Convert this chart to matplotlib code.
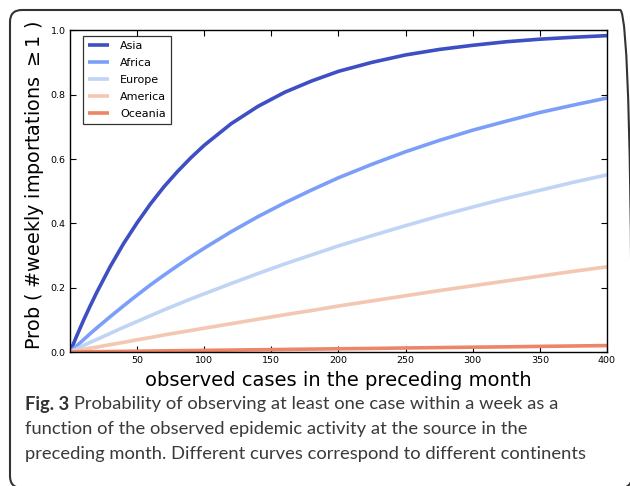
import matplotlib
matplotlib.use("Agg")
import matplotlib.pyplot as plt
from matplotlib.patches import FancyBboxPatch
from matplotlib.transforms import IdentityTransform

cases = [0, 5, 10, 15, 20, 30, 40, 50, 60, 70, 80, 90, 100, 120, 140, 160, 180, 200,
         225, 250, 275, 300, 325, 350, 375, 400]
asia = [0, 0.050, 0.098, 0.143, 0.186, 0.266, 0.338, 0.402, 0.461, 0.514, 0.561, 0.604, 0.643,
        0.710, 0.764, 0.808, 0.843, 0.873, 0.901, 0.924, 0.941, 0.954, 0.965, 0.973, 0.979, 0.984]
africa = [0, 0.019, 0.038, 0.057, 0.075, 0.110, 0.144, 0.177, 0.209, 0.239, 0.268, 0.296, 0.323,
          0.374, 0.421, 0.464, 0.504, 0.542, 0.584, 0.623, 0.658, 0.690, 0.718, 0.745, 0.768, 0.790]
europe = [0, 0.010, 0.020, 0.030, 0.039, 0.058, 0.077, 0.095, 0.113, 0.131, 0.148, 0.165, 0.181,
          0.213, 0.244, 0.274, 0.302, 0.330, 0.362, 0.393, 0.423, 0.451, 0.478, 0.503, 0.528, 0.551]
america = [0, 0.004, 0.008, 0.012, 0.015, 0.023, 0.030, 0.038, 0.045, 0.053, 0.060, 0.067, 0.074,
           0.088, 0.102, 0.116, 0.129, 0.143, 0.159, 0.175, 0.191, 0.206, 0.221, 0.236, 0.251, 0.265]
oceania = [0, 0.0003, 0.0005, 0.0008, 0.001, 0.0015, 0.002, 0.0025, 0.003, 0.0035, 0.004, 0.0045,
           0.005, 0.006, 0.007, 0.008, 0.009, 0.010, 0.011, 0.0125, 0.0137, 0.015, 0.016, 0.0175,
           0.0187, 0.020]

series = [("Asia", asia, "#3d4fc2"), ("Africa", africa, "#7b9ff9"),
          ("Europe", europe, "#c0d4f5"), ("America", america, "#f3c7b1"),
          ("Oceania", oceania, "#ee8468")]

xticks = [50, 100, 150, 200, 250, 300, 350, 400]
yticks = [0.0, 0.2, 0.4, 0.6, 0.8, 1.0]

fig = plt.figure(figsize=(6.3, 4.86), dpi=100)
W, H = 630, 486
ax = fig.add_axes([70 / W, 1 - 352 / H, (607 - 70) / W, (352 - 30.5) / H])

for name, vals, col in series:
    ax.plot(cases, vals, color=col, lw=2.6, label=name, solid_capstyle="butt")

ax.set_xlim(0, 400)
ax.set_ylim(0, 1.0)
ax.set_xticks(xticks)
ax.set_yticks(yticks)
ax.set_yticklabels([f"{v:.1f}" for v in yticks])
ax.tick_params(direction="in", top=True, right=True, labelsize=6.8, length=4, width=0.8, pad=3)
for s in ax.spines.values():
    s.set_linewidth(1.0)

ax.set_xlabel("observed cases in the preceding month", fontsize=14, labelpad=4)
ax.set_ylabel(r"Prob ( #weekly importations $\geq$1 )", fontsize=13.8)
ax.yaxis.set_label_coords(-23.5 / 537, (352 - 185.5) / 321.5)

leg = ax.legend(loc="upper left", fontsize=8, frameon=True, fancybox=False,
                edgecolor="black", handlelength=1.9, handletextpad=1.0, borderpad=0.45,
                labelspacing=0.62, borderaxespad=0, bbox_to_anchor=(0.0236, 0.983))
leg.get_frame().set_linewidth(0.9)

# outer rounded border (pixel coordinates)
box = FancyBboxPatch((10, -2), 622, 478,
                     boxstyle="round,pad=0,rounding_size=12",
                     transform=IdentityTransform(), fill=False, edgecolor="#333333",
                     linewidth=1.5, clip_on=False)
fig.patches.append(box)

cap_font = ["Lato", "DejaVu Sans"]
cap_col = "#3a3a3a"
fs = 13.2
t = fig.text(25 / W, 1 - 404 / H, "Fig. 3", fontsize=fs, fontweight="bold", family=cap_font,
             color="#333333", va="center", ha="left")
fig.canvas.draw()
bb = t.get_window_extent()
fig.text((bb.x1 + 5) / W, 1 - 404 / H,
         "Probability of observing at least one case within a week as a",
         fontsize=fs, family=cap_font, color=cap_col, va="center", ha="left")
fig.text(25 / W, 1 - 429 / H,
         "function of the observed epidemic activity at the source in the",
         fontsize=fs, family=cap_font, color=cap_col, va="center", ha="left")
fig.text(25 / W, 1 - 454 / H,
         "preceding month. Different curves correspond to different continents",
         fontsize=fs, family=cap_font, color=cap_col, va="center", ha="left")

fig.savefig("out.png", dpi=100)
